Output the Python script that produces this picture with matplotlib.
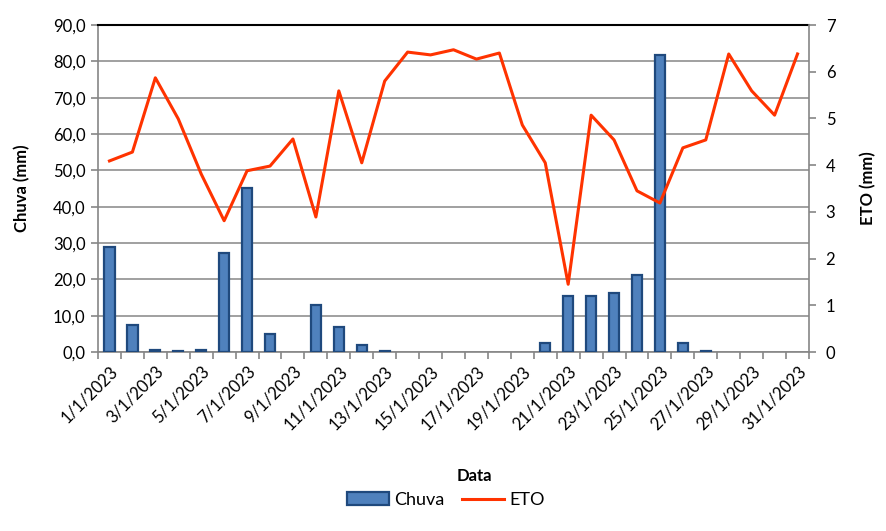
import numpy as np
import matplotlib
matplotlib.use('Agg')
import matplotlib.pyplot as plt
import matplotlib.ticker as plticker
from matplotlib.patches import Patch
from matplotlib.lines import Line2D

plt.rcParams['font.family'] = ['Lato', 'DejaVu Sans']

dias = [f'{d}/1/2023' for d in range(1, 32)]
chuva = [29.0, 7.5, 0.5, 0.2, 0.5, 27.3, 45.2, 5.0, 0.0, 13.0,
         7.0, 2.0, 0.2, 0.0, 0.0, 0.0, 0.0, 0.0, 0.0, 2.5,
         15.5, 15.5, 16.3, 21.2, 81.8, 2.5, 0.2, 0.0, 0.0, 0.0, 0.0]
eto = [4.09, 4.28, 5.87, 4.99, 3.81, 2.81, 3.88, 3.98, 4.56, 2.89,
       5.59, 4.05, 5.80, 6.42, 6.36, 6.47, 6.27, 6.40, 4.86, 4.05,
       1.45, 5.07, 4.54, 3.45, 3.19, 4.37, 4.54, 6.38, 5.59, 5.07, 6.38]

azul = '#4F81BD'
borda = '#1F497D'
laranja = '#FF3300'
cinza = '#868686'
fs = 12

fig = plt.figure(figsize=(8.86, 5.31), dpi=100)
ax = fig.add_axes([98 / 886, 1 - 352 / 531, (809 - 98) / 886, (352 - 25) / 531])
x = np.arange(len(dias))

# dias sem chuva nao desenham barra
alturas = np.where(np.array(chuva) > 0, chuva, np.nan)
ax.bar(x, alturas, width=0.45, color=azul, edgecolor=borda, linewidth=1.6, zorder=3)
ax.set_xlim(-0.5, len(dias) - 0.5)
ax.set_ylim(0, 90)
ax.yaxis.set_major_locator(plticker.MultipleLocator(10))
ax.yaxis.set_major_formatter(plticker.FuncFormatter(lambda v, p: f'{v:.1f}'.replace('.', ',')))
ax.grid(axis='y', color=cinza, linewidth=1.1, zorder=0)
ax.set_axisbelow(True)

ax.set_xticks(x[::2])
ax.set_xticklabels(dias[::2], rotation=45, ha='right', rotation_mode='anchor', fontsize=fs)
ax.set_xticks(np.arange(-0.5, len(dias)), minor=True)
ax.tick_params(axis='x', which='major', length=0, pad=8)
ax.tick_params(axis='x', which='minor', length=5, width=1.2, color=cinza, direction='out')
ax.tick_params(axis='y', length=5, width=1.2, color=cinza, labelsize=fs, pad=4)

for s in ['left', 'bottom']:
    ax.spines[s].set_color(cinza)
    ax.spines[s].set_linewidth(1.2)
ax.spines['right'].set_visible(False)
ax.spines['top'].set_color('black')
ax.spines['top'].set_linewidth(1.5)

ax.set_ylabel('Chuva (mm)', fontsize=fs, fontweight='bold')
ax.yaxis.set_label_coords(-0.095, 0.5)
ax.set_xlabel('Data', fontsize=fs, fontweight='bold')
ax.xaxis.set_label_coords(0.53, -0.355)

ax2 = ax.twinx()
ax2.plot(x, eto, color=laranja, linewidth=2.2, zorder=4)
ax2.set_ylim(0, 7)
ax2.yaxis.set_major_locator(plticker.MultipleLocator(1))
ax2.tick_params(axis='y', length=5, width=1.2, color=cinza, labelsize=fs, pad=7)
for s in ['left', 'top', 'bottom']:
    ax2.spines[s].set_visible(False)
ax2.spines['right'].set_color(cinza)
ax2.spines['right'].set_linewidth(1.2)
ax2.set_ylabel('ETO (mm)', fontsize=fs, fontweight='bold')
ax2.yaxis.set_label_coords(1.072, 0.5)

handles = [Patch(facecolor=azul, edgecolor=borda, linewidth=1.6),
           Line2D([0], [0], color=laranja, linewidth=2.2)]
fig.legend(handles, ['Chuva', 'ETO'], loc='center', bbox_to_anchor=(446 / 886, 1 - 500 / 531),
           ncol=2, frameon=False, fontsize=13, handlelength=2.3, handleheight=0.75,
           columnspacing=1.0, handletextpad=0.3)

fig.savefig('out.png', dpi=100)
